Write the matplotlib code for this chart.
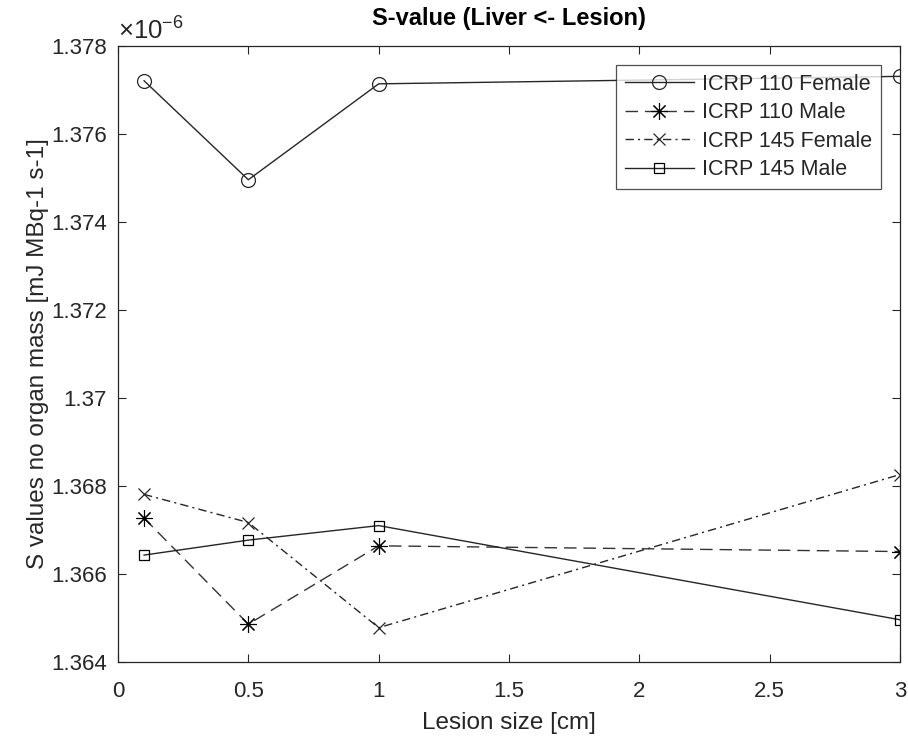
import matplotlib
matplotlib.use("Agg")
import matplotlib.pyplot as plt
from matplotlib.ticker import FuncFormatter, MultipleLocator

plt.rcParams['font.family'] = ['Liberation Sans', 'DejaVu Sans']
plt.rcParams['mathtext.fontset'] = 'custom'
plt.rcParams['mathtext.rm'] = 'Liberation Sans'
plt.rcParams['mathtext.it'] = 'Liberation Sans'

# Lesion sizes [cm]
lesion_size = [0.1, 0.5, 1.0, 3.0]

# S values (mJ MBq-1 s-1), no organ mass
icrp110_female = [1.37721e-6, 1.37496e-6, 1.37714e-6, 1.37731e-6]
icrp110_male = [1.36727e-6, 1.36486e-6, 1.36664e-6, 1.36651e-6]
icrp145_female = [1.36781e-6, 1.36717e-6, 1.36478e-6, 1.36826e-6]
icrp145_male = [1.36643e-6, 1.36677e-6, 1.36710e-6, 1.36496e-6]

series_labels = ['ICRP 110 Female', 'ICRP 110 Male', 'ICRP 145 Female', 'ICRP 145 Male']
x_ticks = [0, 0.5, 1, 1.5, 2, 2.5, 3]

fig = plt.figure(figsize=(9.08, 7.42), dpi=100)
ax = fig.add_axes([118 / 908, 80 / 742, 782 / 908, 616 / 742])

asterisk = (8, 2, 0)
ax.plot(lesion_size, icrp110_female, color='#262626', lw=1.0, ls='-',
        marker='o', ms=10, mfc='none', mec='#262626', mew=0.9, label=series_labels[0])
ax.plot(lesion_size, icrp110_male, color='#333333', lw=1.0, ls=(0, (9, 5)),
        marker=asterisk, ms=12, mec='#000000', mew=0.8, label=series_labels[1])
ax.plot(lesion_size, icrp145_female, color='#262626', lw=1.0, ls=(0, (6, 3, 1.5, 3)),
        marker='x', ms=8, mec='#262626', mew=0.9, label=series_labels[2])
ax.plot(lesion_size, icrp145_male, color='#262626', lw=1.0, ls='-',
        marker='s', ms=7, mfc='none', mec='#000000', mew=0.9, label=series_labels[3])

ax.set_xlim(0, 3)
ax.set_ylim(1.364e-6, 1.378e-6)
ax.set_xticks(x_ticks)
ax.yaxis.set_major_locator(MultipleLocator(0.002e-6))
ax.xaxis.set_major_formatter(FuncFormatter(lambda v, p: f'{v:g}'))
ax.yaxis.set_major_formatter(FuncFormatter(lambda v, p: f'{round(v / 1e-6, 6):g}'))

ax.tick_params(axis='both', which='major', direction='in', length=6, width=0.8,
               top=True, right=True, labelsize=16, colors='#262626', labelcolor='#262626')
ax.tick_params(axis='y', pad=8)
ax.tick_params(axis='x', pad=14)
for sp in ax.spines.values():
    sp.set_color('#262626')
    sp.set_linewidth(0.9)

ax.text(0.0, 1.003, r'$\times10^{-6}$', transform=ax.transAxes, fontsize=18.5,
        color='#262626', ha='left', va='bottom')

ax.set_xlabel('Lesion size [cm]', fontsize=17.5, color='#262626', labelpad=7)
ax.set_ylabel('S values no organ mass [mJ MBq-1 s-1]', fontsize=17.5, color='#262626', labelpad=1.5)
ax.set_title('S-value (Liver <- Lesion)', fontsize=17, fontweight='bold', color='#000000', pad=15)

leg = ax.legend(loc='upper right', bbox_to_anchor=(0.9757, 0.9687), borderaxespad=0,
                fontsize=15.5, frameon=True, fancybox=False, handlelength=3.2,
                handletextpad=0.4, borderpad=0.4, labelspacing=0.35)
leg.get_frame().set_edgecolor('#262626')
leg.get_frame().set_linewidth(0.9)
for t in leg.get_texts():
    t.set_color('#262626')

fig.savefig('out.png', dpi=100, facecolor='white')
